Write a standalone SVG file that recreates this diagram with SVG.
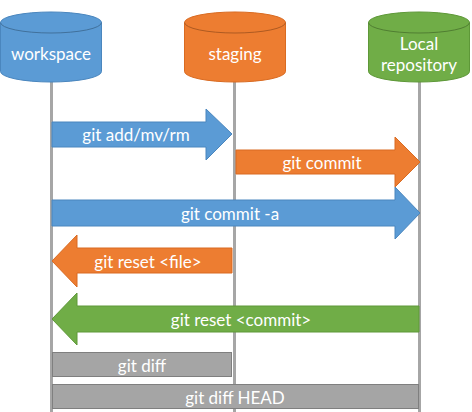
<svg xmlns="http://www.w3.org/2000/svg" width="472" height="412" viewBox="0 0 472 412">
<style>
.lbl{font-family:Lato,"Open Sans","Liberation Sans",sans-serif;font-size:17px;fill:#fff;text-anchor:middle;dominant-baseline:central}
.life{stroke:#A6A6A6;stroke-width:3;fill:none}
.blue{fill:#5B9BD5;stroke:#4A86BE;stroke-width:1}
.orange{fill:#ED7D31;stroke:#D96B22;stroke-width:1}
.green{fill:#70AD47;stroke:#5E9838;stroke-width:1}
.gray{fill:#A5A5A5;stroke:#7F7F7F;stroke-width:1}
</style>
<rect width="472" height="412" fill="#fff"/>
<g id="lifelines">
<line class="life" x1="51.5" y1="80" x2="51.5" y2="412"/>
<line class="life" x1="234.5" y1="80" x2="234.5" y2="412"/>
<line class="life" x1="419.5" y1="80" x2="419.5" y2="412"/>
</g>
<g id="workspace">
<path class="blue" stroke="#41719C" d="M0.5,22.5 A50.5,10.5 0 0 1 101.5,22.5 V71.5 A50.5,10.5 0 0 1 0.5,71.5 Z"/>
<path d="M0.5,22.5 A50.5,10.5 0 0 0 101.5,22.5" fill="none" stroke="#41719C" stroke-width="1"/>
<text class="lbl" x="51" y="53">workspace</text>
</g>
<g id="staging">
<path class="orange" stroke="#AE5A21" d="M184.5,22.5 A50.5,10.5 0 0 1 285.5,22.5 V71.5 A50.5,10.5 0 0 1 184.5,71.5 Z"/>
<path d="M184.5,22.5 A50.5,10.5 0 0 0 285.5,22.5" fill="none" stroke="#AE5A21" stroke-width="1"/>
<text class="lbl" x="235" y="53">staging</text>
</g>
<g id="local-repository">
<path class="green" stroke="#507E32" d="M368.5,22.5 A50.5,10.5 0 0 1 469.5,22.5 V71.5 A50.5,10.5 0 0 1 368.5,71.5 Z"/>
<path d="M368.5,22.5 A50.5,10.5 0 0 0 469.5,22.5" fill="none" stroke="#507E32" stroke-width="1"/>
<text class="lbl" x="419" y="43">Local</text>
<text class="lbl" x="419" y="64">repository</text>
</g>
<g id="connectors">
<g id="git-add">
<path class="blue" d="M52,122 H206 V109 L232,134 L206,160 V147 H52 Z"/>
<text class="lbl" x="136" y="134">git add/mv/rm</text>
</g>
<g id="git-commit">
<path class="orange" d="M236,150 H395 V137 L420,162 L395,187 V174 H236 Z"/>
<text class="lbl" x="322" y="162">git commit</text>
</g>
<g id="git-commit-a">
<path class="blue" d="M52,200 H395 V187 L420,213 L395,239 V226 H52 Z"/>
<text class="lbl" x="230" y="213">git commit -a</text>
</g>
<g id="git-reset-file">
<path class="orange" d="M232,248 H77 V235 L52,261 L77,287 V273 H232 Z"/>
<text class="lbl" x="148" y="261">git reset &lt;file&gt;</text>
</g>
<g id="git-reset-commit">
<path class="green" d="M419,306 H77 V293 L52,319 L77,345 V332 H419 Z"/>
<text class="lbl" x="241" y="319">git reset &lt;commit&gt;</text>
</g>
<g id="git-diff">
<rect class="gray" x="52.5" y="352.5" width="179" height="24"/>
<text class="lbl" x="142" y="365">git diff</text>
</g>
<g id="git-diff-head">
<rect class="gray" x="52.5" y="384.5" width="366" height="24"/>
<text class="lbl" x="235" y="397">git diff HEAD</text>
</g>
</g>
</svg>
